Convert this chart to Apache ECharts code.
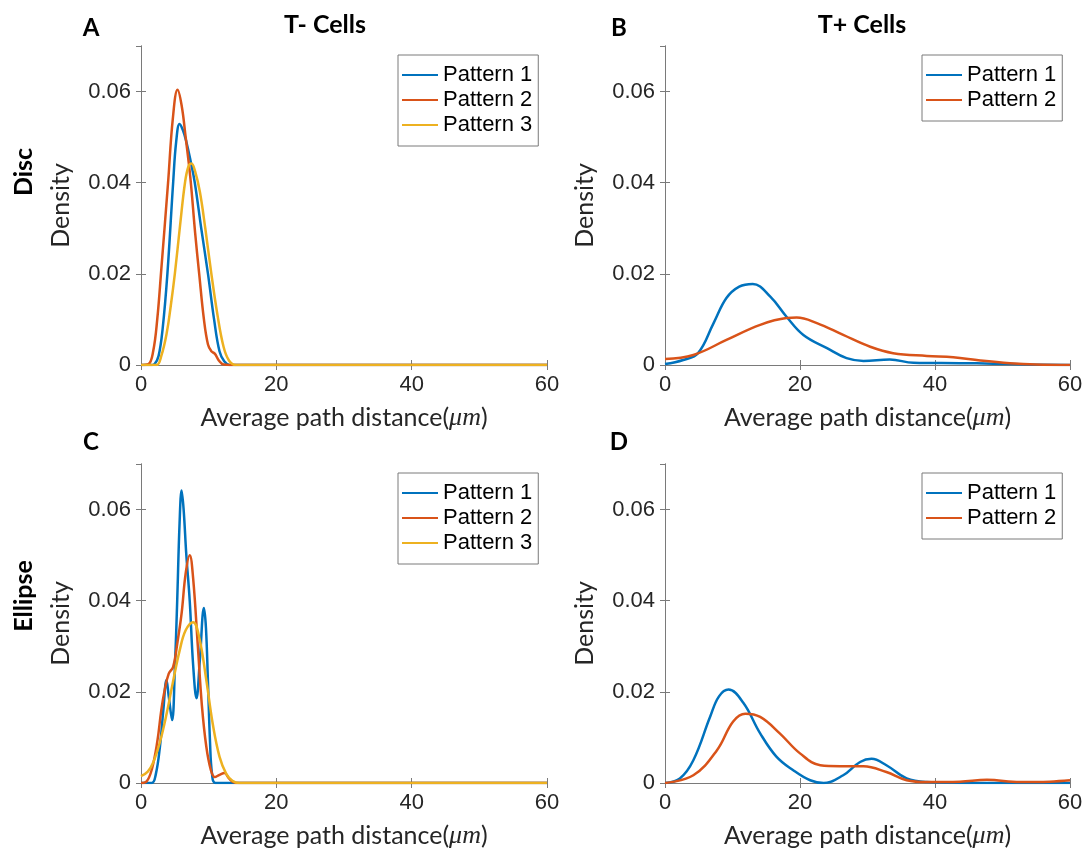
<!DOCTYPE html>
<html>
<head>
<meta charset="utf-8">
<script src="https://cdn.jsdelivr.net/npm/echarts@6/dist/echarts.min.js"></script>
<style>
  html, body { margin: 0; padding: 0; background: #ffffff; }
  #chart { width: 1091px; height: 852px; }
</style>
</head>
<body>
<div id="chart"></div>
<script>
// Axis ranges and tick labels
const xTicks = [0, 20, 40, 60];
const yTicks = [0, 0.02, 0.04, 0.06];
const yMax = 0.07;
const patternNames = ['Pattern 1', 'Pattern 2', 'Pattern 3'];
const panelLetters = ['A', 'B', 'C', 'D'];
const columnTitles = ['T- Cells', 'T+ Cells'];
const rowTitles = ['Disc', 'Ellipse'];

// Kernel density estimates, [distance (um), density]
// Disc, T- cells
const discTnegP1 = [[0,0],[1.5,0],[2.0,0.0002],[2.6,0.002],[3.2,0.008],[3.9,0.02],[4.75,0.04],[5.2,0.049],[5.7,0.0529],[6.2,0.0515],[6.7,0.049],[7.3,0.045],[7.95,0.04],[8.9,0.03],[9.9,0.02],[10.8,0.01],[11.6,0.003],[12.3,0.0008],[13.1,0],[20,0],[40,0],[60,0]];
const discTnegP2 = [[0,0],[1.1,0.0002],[1.8,0.003],[2.4,0.01],[3.0,0.021],[4.0,0.04],[4.7,0.054],[5.4,0.0604],[6.0,0.057],[6.6,0.05],[7.3,0.041],[8.0,0.029],[8.6,0.02],[9.3,0.01],[9.9,0.0045],[10.4,0.003],[10.9,0.0025],[11.5,0.001],[12.2,0.0001],[13,0],[20,0],[40,0],[60,0]];
const discTnegP3 = [[0,0],[2.3,0],[3.0,0.002],[3.8,0.007],[4.4,0.013],[5.0,0.02],[5.8,0.031],[6.5,0.04],[7.0,0.0435],[7.45,0.0442],[8.0,0.0425],[8.7,0.038],[9.5,0.03],[10.4,0.02],[11.3,0.011],[12.2,0.004],[13.0,0.001],[14,0],[20,0],[40,0],[60,0]];
// Disc, T+ cells
const discTposP1 = [[0,0.0002],[2.7,0.0011],[4.9,0.0026],[7.2,0.0092],[9.1,0.0147],[11,0.0172],[13,0.0178],[15.6,0.015],[18,0.0106],[20.5,0.0066],[24,0.0037],[26.9,0.0015],[29.4,0.0009],[33.3,0.0012],[36.8,0.0005],[43.7,0.0004],[48.6,0.0003],[54,0.0001],[60,0]];
const discTposP2 = [[0,0.0013],[4.2,0.0022],[9.1,0.0055],[14.1,0.0088],[18,0.0103],[19.5,0.0104],[22.5,0.0092],[26.4,0.0066],[30.4,0.004],[33.8,0.0026],[38.8,0.002],[42.7,0.0017],[46.7,0.001],[51.1,0.0004],[55,0.0001],[60,0]];
// Ellipse, T- cells
const ellTnegP1 = [[0,0],[1.6,0],[2.2,0.002],[2.8,0.008],[3.3,0.016],[3.77,0.0226],[4.1,0.019],[4.6,0.0138],[5.0,0.025],[5.35,0.04],[5.7,0.057],[6.0,0.0642],[6.3,0.06],[6.7,0.05],[7.2,0.04],[7.7,0.026],[8.2,0.0186],[8.7,0.027],[9.3,0.0384],[9.6,0.034],[9.9,0.022],[10.2,0.009],[10.5,0.002],[11.0,0],[20,0],[40,0],[60,0]];
const ellTnegP2 = [[0,0],[0.8,0.0003],[1.6,0.003],[2.4,0.009],[3.0,0.016],[3.5,0.0204],[4.1,0.024],[4.75,0.0255],[5.4,0.031],[6.0,0.0372],[6.6,0.046],[7.2,0.05],[7.7,0.045],[8.4,0.03],[9.0,0.017],[9.65,0.008],[10.3,0.003],[10.9,0.0013],[11.6,0.0018],[12.35,0.0022],[13.0,0.001],[14,0],[20,0],[40,0],[60,0]];
const ellTnegP3 = [[0,0.0015],[1,0.0025],[1.8,0.0045],[2.8,0.009],[3.8,0.0153],[4.7,0.022],[5.7,0.029],[6.6,0.0335],[7.7,0.0353],[8.6,0.032],[9.65,0.0226],[10.6,0.013],[11.6,0.0058],[12.6,0.002],[13.5,0.0005],[14.5,0],[20,0],[40,0],[60,0]];
// Ellipse, T+ cells
const ellTposP1 = [[0,0],[2.2,0.001],[4.2,0.005],[6.7,0.0146],[8,0.019],[9.4,0.0205],[11.6,0.0176],[14.1,0.0109],[16.5,0.0058],[19,0.0028],[21.5,0.0006],[23.5,0],[26.4,0.0017],[28.9,0.0046],[30.6,0.0053],[32.8,0.0039],[35.8,0.001],[38.8,0.0002],[45,0],[60,0]];
const ellTposP2 = [[0,0],[4.2,0.0017],[7.7,0.0072],[10.1,0.0135],[11.9,0.0152],[14.1,0.0145],[17,0.0109],[20,0.0065],[23,0.0039],[25.9,0.0037],[29.4,0.0037],[32.8,0.0024],[35.8,0.0006],[38.8,0.0002],[43.7,0.0003],[47.7,0.0007],[52.6,0.0002],[57,0.0003],[60,0.0006]];

const COLORS = ['#0072BD', '#D95319', '#EDB120'];
const AXIS = '#7a7a7a';
const TEXT = '#262626';
const SANS = 'Arial, "Liberation Sans", sans-serif';
const HUM = 'Lato, "Open Sans", sans-serif';

const panels = [
  { grid: { left: 141, top: 46, width: 406, height: 319 }, legend: { left: 398, top: 55 }, data: [discTnegP1, discTnegP2, discTnegP3] },
  { grid: { left: 665, top: 46, width: 405, height: 319 }, legend: { left: 922, top: 55 }, data: [discTposP1, discTposP2] },
  { grid: { left: 141, top: 464, width: 406, height: 319 }, legend: { left: 398, top: 473 }, data: [ellTnegP1, ellTnegP2, ellTnegP3] },
  { grid: { left: 665, top: 464, width: 405, height: 319 }, legend: { left: 922, top: 473 }, data: [ellTposP1, ellTposP2] }
];

const grids = [], xAxes = [], yAxes = [], series = [], legends = [];

panels.forEach((p, i) => {
  grids.push(Object.assign({ containLabel: false }, p.grid));
  const tick = { inside: true, length: 5, lineStyle: { color: AXIS, width: 1 } };
  const line = { show: true, lineStyle: { color: AXIS, width: 1 } };
  xAxes.push({
    gridIndex: i, type: 'value', min: xTicks[0], max: xTicks[xTicks.length - 1],
    interval: xTicks[1] - xTicks[0],
    axisLine: line, axisTick: tick, splitLine: { show: false },
    axisLabel: { fontSize: 22, color: TEXT, fontFamily: SANS, margin: 9 },
    name: '{a|Average path distance(}{m|μm}{a|)}',
    nameLocation: 'middle', nameGap: 40,
    nameTextStyle: {
      rich: {
        a: { fontSize: 25, fontFamily: HUM, color: TEXT },
        m: { fontSize: 26, fontFamily: '"Liberation Serif", "DejaVu Serif", serif', fontStyle: 'italic', color: TEXT }
      }
    }
  });
  xAxes.push({
    gridIndex: i, type: 'value', position: 'top', min: xTicks[0], max: xTicks[xTicks.length - 1],
    interval: xTicks[1] - xTicks[0],
    axisLine: line, axisTick: tick, splitLine: { show: false }, axisLabel: { show: false }
  });
  yAxes.push({
    gridIndex: i, type: 'value', min: yTicks[0], max: yMax, interval: yTicks[1] - yTicks[0],
    axisLine: line, axisTick: tick, splitLine: { show: false },
    axisLabel: { fontSize: 22, color: TEXT, fontFamily: SANS, margin: 10, showMaxLabel: false },
    name: 'Density', nameLocation: 'middle', nameGap: 68,
    nameTextStyle: { fontSize: 25, fontFamily: HUM, color: TEXT }
  });
  yAxes.push({
    gridIndex: i, type: 'value', position: 'right', min: yTicks[0], max: yMax, interval: yTicks[1] - yTicks[0],
    axisLine: line, axisTick: tick, splitLine: { show: false }, axisLabel: { show: false }
  });

  p.data.forEach((d, k) => {
    series.push({
      name: patternNames[k], type: 'line',
      xAxisIndex: 2 * i, yAxisIndex: 2 * i,
      data: d, smooth: 0.4,
      showSymbol: false, symbol: 'none', clip: true, silent: true,
      z: 2 + k,
      lineStyle: { color: COLORS[k], width: 2.5 },
      itemStyle: { color: COLORS[k] }
    });
  });

  legends.push({
    data: patternNames.slice(0, p.data.length),
    orient: 'vertical', left: p.legend.left, top: p.legend.top,
    icon: 'rect', itemWidth: 36, itemHeight: 2, itemGap: 1,
    padding: [8, 6, 9, 4],
    borderColor: '#7a7a7a', borderWidth: 1, backgroundColor: '#ffffff',
    selectedMode: false,
    itemStyle: { borderWidth: 0 },
    textStyle: { fontSize: 22, fontFamily: SANS, color: '#000000', lineHeight: 24 }
  });
});

// Panel letters, column titles and row titles
const letterPos = [[91, 28], [619, 28], [91, 442], [619, 442]];
const titlePos = [[325, 25], [862, 25]];
const rowPos = [[24, 172], [24, 596]];
const graphics = [];
panelLetters.forEach((t, i) => graphics.push({
  type: 'text', x: letterPos[i][0], y: letterPos[i][1],
  style: { text: t, fill: '#000', font: 'bold 24px ' + HUM, align: 'center', verticalAlign: 'middle' }
}));
columnTitles.forEach((t, i) => graphics.push({
  type: 'text', x: titlePos[i][0], y: titlePos[i][1],
  style: { text: t, fill: '#000', font: 'bold 25px ' + HUM, align: 'center', verticalAlign: 'middle' }
}));
rowTitles.forEach((t, i) => graphics.push({
  type: 'text', x: rowPos[i][0], y: rowPos[i][1], rotation: Math.PI / 2,
  style: { text: t, fill: '#000', font: 'bold 25px ' + HUM, align: 'center', verticalAlign: 'middle' }
}));

const chart = echarts.init(document.getElementById('chart'), null, { renderer: 'canvas' });
chart.setOption({
  animation: false,
  backgroundColor: '#ffffff',
  grid: grids, xAxis: xAxes, yAxis: yAxes,
  series: series, legend: legends, graphic: graphics
});
</script>
</body>
</html>
